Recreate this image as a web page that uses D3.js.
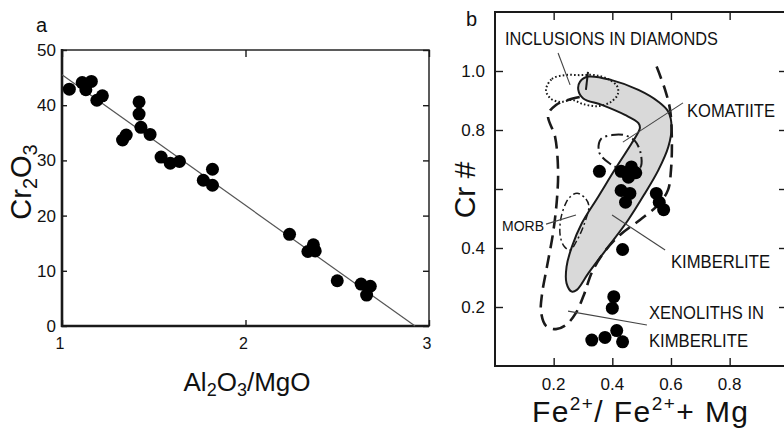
<!DOCTYPE html>
<html><head><meta charset="utf-8">
<script src="https://cdn.jsdelivr.net/npm/d3@7"></script>
<style>
body{margin:0;background:#fff}
svg{display:block}
text{font-family:"Liberation Sans",Arial,sans-serif;fill:#111}
</style>
</head><body>
<svg id="c" width="784" height="440"></svg>
<script>
// ---------- Panel a data ----------
const aX = [1.04,1.11,1.13,1.16,1.19,1.22,1.33,1.35,1.42,1.42,1.43,1.48,1.54,1.59,1.64,1.77,1.82,1.82,2.24,2.34,2.37,2.38,2.50,2.63,2.68,2.66];
const aY = [42.9,44.1,42.8,44.3,40.9,41.7,33.7,34.6,40.6,38.4,36.0,34.7,30.6,29.5,29.8,26.4,28.4,25.5,16.6,13.5,14.7,13.6,8.2,7.6,7.2,5.6];
const aFitX = [1.0, 2.924];
const aFitY = [45.5, 0];
const aXTicks = [1,2,3];
const aYTicks = [0,10,20,30,40,50];

// ---------- Panel b data ----------
const bX = [0.356,0.43,0.465,0.48,0.455,0.43,0.46,0.445,0.55,0.56,0.575,0.435,0.405,0.40,0.33,0.375,0.415,0.435];
const bY = [0.66,0.66,0.675,0.655,0.64,0.595,0.585,0.555,0.585,0.555,0.53,0.395,0.235,0.196,0.088,0.097,0.12,0.082];
const bXTicks = [0.2,0.4,0.6,0.8];
const bYTicks = [0.2,0.4,0.6,0.8,1.0];
const bYLabels = ["0.2","0.4","","0.8","1.0"];

// Kimberlite field (grey, solid outline)
const kimberlite = [[0.318,0.981],[0.398,0.969],[0.489,0.936],[0.557,0.896],[0.591,0.862],[0.602,0.811],[0.591,0.743],[0.557,0.664],[0.511,0.585],[0.454,0.495],[0.386,0.404],[0.318,0.314],[0.279,0.258],[0.262,0.252],[0.244,0.280],[0.244,0.337],[0.262,0.404],[0.296,0.484],[0.352,0.574],[0.415,0.676],[0.466,0.755],[0.494,0.806],[0.489,0.823],[0.443,0.851],[0.364,0.885],[0.301,0.907],[0.284,0.936],[0.290,0.964]];
// Xenoliths in kimberlite (long dashes, open)
const xenoliths = [[0.551,1.015],[0.580,0.936],[0.597,0.868],[0.603,0.766],[0.600,0.664],[0.590,0.597],[0.556,0.546],[0.494,0.495],[0.426,0.444],[0.372,0.386],[0.331,0.319],[0.303,0.241],[0.276,0.180],[0.242,0.139],[0.208,0.125],[0.174,0.136],[0.157,0.183],[0.160,0.241],[0.177,0.336],[0.198,0.451],[0.211,0.563],[0.215,0.664],[0.205,0.776],[0.181,0.851],[0.208,0.885],[0.249,0.902],[0.290,0.912]];
// MORB (dash-dot, closed)
const morb = [[0.280,0.586],[0.310,0.566],[0.320,0.542],[0.303,0.478],[0.280,0.427],[0.256,0.393],[0.235,0.407],[0.222,0.444],[0.225,0.502],[0.242,0.553],[0.256,0.573]];
// Komatiite (dash-dot, closed)
const komatiite = [[0.361,0.769],[0.399,0.783],[0.440,0.783],[0.477,0.763],[0.498,0.715],[0.494,0.671],[0.443,0.664],[0.389,0.688],[0.355,0.725]];
// Inclusions in diamonds (dotted, closed)
const inclusions = [[0.174,0.936],[0.194,0.973],[0.239,0.986],[0.290,0.986],[0.341,0.986],[0.385,0.973],[0.416,0.949],[0.419,0.922],[0.395,0.895],[0.351,0.881],[0.300,0.888],[0.263,0.902],[0.222,0.895],[0.188,0.908]];
const capMark = [[0.317,0.997],[0.310,0.936]];
// Leader lines
const leaders = [
  [[0.215,1.061],[0.256,0.953]],
  [[0.641,0.892],[0.436,0.759]],
  [[0.174,0.481],[0.276,0.512]],
  [[0.399,0.512],[0.580,0.393]],
  [[0.249,0.186],[0.518,0.139]]
];

const svg = d3.select("#c");
const ink = "#1a1a1a";

// ================= Panel a =================
const ax = d3.scaleLinear().domain([1,3]).range([62,429]);
const ay = d3.scaleLinear().domain([0,50]).range([326,50]);
const ga = svg.append("g");
ga.append("rect").attr("x",62).attr("y",50).attr("width",429-62).attr("height",326-50)
  .attr("fill","none").attr("stroke","#333").attr("stroke-width",1.6);
ga.append("line").attr("x1",62).attr("x2",62).attr("y1",49).attr("y2",327).attr("stroke",ink).attr("stroke-width",2.6);
ga.append("line").attr("x1",61).attr("x2",429).attr("y1",326).attr("y2",326).attr("stroke",ink).attr("stroke-width",2.6);
ga.append("g").attr("transform","translate(0,326)")
  .call(d3.axisTop(ax).tickValues(aXTicks).tickSize(6).tickFormat(""))
  .call(g=>{g.select(".domain").remove();g.selectAll("line").attr("stroke",ink).attr("stroke-width",1.4);});
ga.append("g").attr("transform","translate(0,50)")
  .call(d3.axisBottom(ax).tickValues(aXTicks).tickSize(7).tickFormat(""))
  .call(g=>{g.select(".domain").remove();g.selectAll("line").attr("stroke",ink).attr("stroke-width",1.4);});
ga.append("g").attr("transform","translate(62,0)")
  .call(d3.axisRight(ay).tickValues(aYTicks).tickSize(5).tickFormat(""))
  .call(g=>{g.select(".domain").remove();g.selectAll("line").attr("stroke",ink).attr("stroke-width",1.4);});
ga.append("g").attr("transform","translate(429,0)")
  .call(d3.axisLeft(ay).tickValues(aYTicks).tickSize(6).tickFormat(""))
  .call(g=>{g.select(".domain").remove();g.selectAll("line").attr("stroke",ink).attr("stroke-width",1.4);});
ga.selectAll("text.xl").data(aXTicks).join("text").attr("class","xl")
  .attr("x",d=>ax(d)-2).attr("y",349).attr("text-anchor","middle").attr("font-size",16).text(d=>d);
ga.selectAll("text.yl").data(aYTicks).join("text").attr("class","yl")
  .attr("x",56).attr("y",d=>ay(d)+6).attr("text-anchor","end").attr("font-size",17).text(d=>d);
ga.append("line").attr("x1",ax(aFitX[0])).attr("y1",ay(aFitY[0])).attr("x2",ax(aFitX[1])).attr("y2",ay(aFitY[1]))
  .attr("stroke","#555").attr("stroke-width",1.2);
ga.selectAll("circle").data(aX.map((x,i)=>[x,aY[i]])).join("circle")
  .attr("cx",d=>ax(d[0])).attr("cy",d=>ay(d[1])).attr("r",6.5).attr("fill","#000");
ga.append("text").attr("x",36).attr("y",32).attr("font-size",20).text("a");
const ylab = ga.append("text").attr("transform","translate(31,182) rotate(-90)").attr("text-anchor","middle").attr("font-size",29);
ylab.append("tspan").text("Cr");
ylab.append("tspan").attr("font-size",20).attr("dy",6).text("2");
ylab.append("tspan").attr("dy",-6).text("O");
ylab.append("tspan").attr("font-size",20).attr("dy",6).text("3");
const xlab = ga.append("text").attr("x",247).attr("y",391).attr("text-anchor","middle").attr("font-size",26);
xlab.append("tspan").text("Al");
xlab.append("tspan").attr("font-size",18).attr("dy",5).text("2");
xlab.append("tspan").attr("dy",-5).text("O");
xlab.append("tspan").attr("font-size",18).attr("dy",5).text("3");
xlab.append("tspan").attr("dy",-5).text("/MgO");

// ================= Panel b =================
const bx = d3.scaleLinear().domain([0,1]).range([495,788.3]);
const by = d3.scaleLinear().domain([0,1.2]).range([366,12]);
const gb = svg.append("g");
const xR = 786;
gb.append("rect").attr("x",495).attr("y",12).attr("width",xR-495).attr("height",366-12)
  .attr("fill","none").attr("stroke",ink).attr("stroke-width",2);
gb.append("g").attr("transform","translate(0,366)")
  .call(d3.axisTop(bx).tickValues(bXTicks).tickSize(8).tickFormat(""))
  .call(g=>{g.select(".domain").remove();g.selectAll("line").attr("stroke",ink).attr("stroke-width",1.4);});
gb.append("g").attr("transform","translate(0,12)")
  .call(d3.axisBottom(bx).tickValues(bXTicks.concat([1.0])).tickSize(8).tickFormat(""))
  .call(g=>{g.select(".domain").remove();g.selectAll("line").attr("stroke",ink).attr("stroke-width",1.4);});
gb.append("g").attr("transform","translate(495,0)")
  .call(d3.axisRight(by).tickValues(bYTicks).tickSize(8).tickFormat(""))
  .call(g=>{g.select(".domain").remove();g.selectAll("line").attr("stroke",ink).attr("stroke-width",1.4);});
gb.append("g").attr("transform",`translate(${xR},0)`)
  .call(d3.axisLeft(by).tickValues(bYTicks).tickSize(7).tickFormat(""))
  .call(g=>{g.select(".domain").remove();g.selectAll("line").attr("stroke",ink).attr("stroke-width",1.4);});
gb.selectAll("text.xl").data(bXTicks).join("text").attr("class","xl")
  .attr("x",d=>bx(d)).attr("y",390).attr("text-anchor","middle").attr("font-size",17).text(d=>d.toFixed(1));
gb.selectAll("text.yl").data(bYTicks).join("text").attr("class","yl")
  .attr("x",485).attr("y",d=>by(d)+6).attr("text-anchor","end").attr("font-size",17)
  .text((d,i)=>bYLabels[i]);

const closed = d3.line().x(d=>bx(d[0])).y(d=>by(d[1])).curve(d3.curveCatmullRomClosed.alpha(0.5));
const open = d3.line().x(d=>bx(d[0])).y(d=>by(d[1])).curve(d3.curveCatmullRom.alpha(0.5));
const straight = d3.line().x(d=>bx(d[0])).y(d=>by(d[1]));

gb.append("path").attr("d",closed(kimberlite)).attr("fill","#d9d9d9").attr("stroke",ink).attr("stroke-width",2);
gb.append("path").attr("d",open(xenoliths)).attr("fill","none").attr("stroke",ink).attr("stroke-width",2.6)
  .attr("stroke-dasharray","13,7");
gb.append("path").attr("d",closed(morb)).attr("fill","none").attr("stroke",ink).attr("stroke-width",1.5)
  .attr("stroke-dasharray","7,3,2,3");
gb.append("path").attr("d",closed(komatiite)).attr("fill","none").attr("stroke",ink).attr("stroke-width",2)
  .attr("stroke-dasharray","11,4,2,4");
gb.append("path").attr("d",closed(inclusions)).attr("fill","none").attr("stroke",ink).attr("stroke-width",2)
  .attr("stroke-dasharray","1.6,2.2");
gb.append("path").attr("d",straight(capMark)).attr("fill","none").attr("stroke",ink).attr("stroke-width",2);
gb.selectAll("path.ld").data(leaders).join("path").attr("class","ld").attr("d",d=>straight(d))
  .attr("fill","none").attr("stroke","#444").attr("stroke-width",1.1);

gb.selectAll("circle").data(bX.map((x,i)=>[x,bY[i]])).join("circle")
  .attr("cx",d=>bx(d[0])).attr("cy",d=>by(d[1])).attr("r",6.5).attr("fill","#000");

function lab(t,x,y,w,fs){
  gb.append("text").attr("x",x).attr("y",y).attr("font-size",fs).attr("textLength",w)
    .attr("lengthAdjust","spacingAndGlyphs").text(t);
}
lab("INCLUSIONS IN DIAMONDS",505,45,213,18);
lab("KOMATIITE",687,117,88,18);
lab("MORB",502,231,42,15);
lab("KIMBERLITE",671,268,99,18);
lab("XENOLITHS IN",649,319,115,18);
lab("KIMBERLITE",649,347,99,18);

gb.append("text").attr("x",466).attr("y",26).attr("font-size",20).text("b");
gb.append("text").attr("transform","translate(475,190) rotate(-90)").attr("text-anchor","middle")
  .attr("font-size",30).text("Cr #");
const bl = gb.append("text").attr("x",532).attr("y",422).attr("font-size",30)
  .attr("textLength",216).attr("lengthAdjust","spacing");
bl.append("tspan").text("Fe");
bl.append("tspan").attr("font-size",19).attr("dy",-12).text("2+");
bl.append("tspan").attr("dy",12).text("/ Fe");
bl.append("tspan").attr("font-size",19).attr("dy",-12).text("2+");
bl.append("tspan").attr("dy",12).text("+ Mg");
</script>
</body></html>
